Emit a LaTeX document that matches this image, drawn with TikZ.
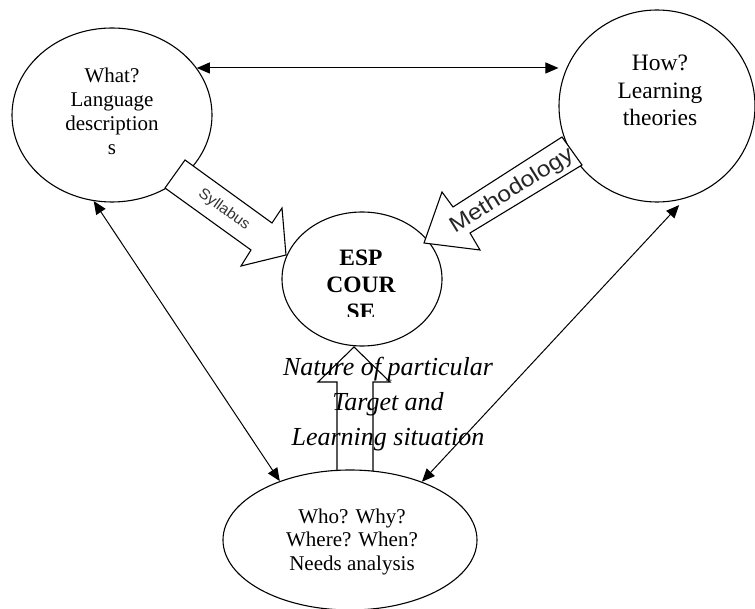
\documentclass[tikz,border=0pt]{standalone}
\usepackage{fontspec}
\setmainfont{Liberation Serif}
\newfontfamily\arialfont{Liberation Sans}
\usetikzlibrary{arrows.meta,shapes.geometric}
\begin{document}
\begin{tikzpicture}[x=1pt,y=-1pt,
  ell/.style={draw, ellipse, line width=1.1pt, inner sep=0pt},
  dbl/.style={{Triangle[length=13pt,width=11pt]}-{Triangle[length=13pt,width=11pt]}, line width=1pt},
  blk/.style={draw, fill=white, line width=1.1pt, line join=miter},
  lbl/.style={align=center, inner sep=0pt, anchor=base}]
\useasboundingbox (0,0) rectangle (755,609);

% ellipses
\node[ell, minimum width=200pt, minimum height=174pt] (what) at (112,115) {};
\node[ell, minimum width=196pt, minimum height=192pt] (how) at (657,106) {};
\node[ell, minimum width=160pt, minimum height=134pt] (esp) at (362,279) {};

% block arrows
\draw[blk] (185,160) -- (272,223) -- (282,208) -- (286,255) -- (241,266) -- (251,250) -- (165,188) -- cycle;
\draw[blk] (562,137) -- (453,207) -- (442,192) -- (424,243) -- (480,250) -- (470,233) -- (582,165) -- cycle;
\draw[blk] (337,471) -- (337,382) -- (318,382) -- (354,347) -- (390,382) -- (373,382) -- (373,471);

\node[ell, minimum width=254pt, minimum height=140pt] (who) at (350,540) {};

% double arrows
\draw[dbl] (what.29) -- (what.29 -| how.west);
\draw[dbl] (what.258) -- (who.140);
\draw[dbl, shorten <=9pt] (how.-73) -- (who.39);

% labels (base anchor = baseline of last line)
\node[lbl, font=\fontsize{21}{24.3}\selectfont] (whatlbl) at (112,155) {What?\\Language\\description\\s};
\node[lbl, font=\fontsize{23.5}{27.5}\selectfont] (howlbl) at (660,126) {How?\\Learning\\theories};
\node[lbl, font=\fontsize{21}{23.5}\selectfont] (wholbl) at (352,570) {Who? Why?\\Where? When?\\Needs analysis};
\begin{scope}
  \clip (282,200) rectangle (442,317);
  \node[lbl, font=\bfseries\fontsize{23.5}{27}\selectfont] (esplbl) at (361,320) {ESP\\COUR\\SE};
\end{scope}
\node[lbl, font=\itshape\fontsize{26}{35}\selectfont] (naturelbl) at (388,445) {Nature of particular\\Target and\\Learning situation};
\node[inner sep=0pt, rotate=-36, xscale=1.05, text=black!80, font=\arialfont\fontsize{15}{15}\selectfont] (syl) at (224,210) {Syllabus};
\node[inner sep=0pt, rotate=32, xscale=1.12, text=black!85, font=\arialfont\fontsize{22}{22}\selectfont] (meth) at (512,191) {Methodology};
\end{tikzpicture}
\end{document}
